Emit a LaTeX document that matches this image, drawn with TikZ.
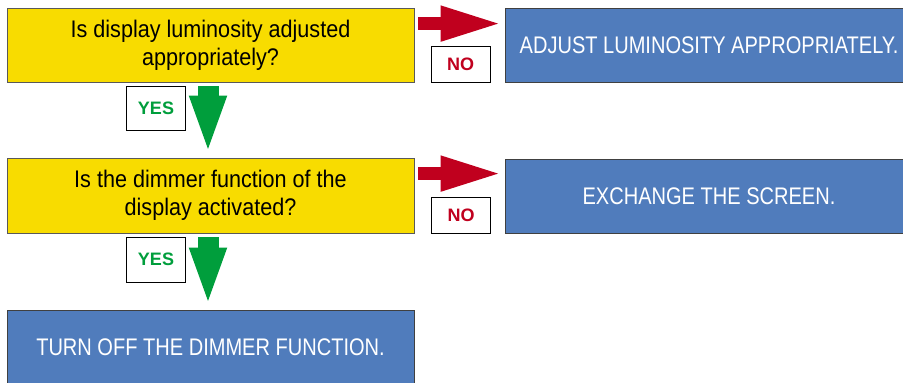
\documentclass[tikz,border=0pt]{standalone}
\usepackage{fontspec}
\setmainfont{Liberation Sans}[FakeStretch=0.9]
\newfontfamily\actfont{Liberation Sans}[FakeStretch=0.835]
\newfontfamily\tagfont{Liberation Sans}
\usepackage{tikz}
\usetikzlibrary{arrows.meta}
\definecolor{qyellow}{RGB}{248,220,0}
\definecolor{ablue}{RGB}{80,124,188}
\definecolor{nored}{RGB}{192,0,30}
\definecolor{yesgreen}{RGB}{0,158,60}
\tikzset{
    question/.style={
        draw=black!65, line width=0.8pt, fill=qyellow,
        minimum width=407pt, minimum height=74pt, inner sep=0pt,
        align=center, font=\fontsize{24}{28}\selectfont
    },
    action/.style={
        draw=black!75, line width=0.8pt, fill=ablue, text=white,
        minimum width=408pt, minimum height=74pt, inner sep=0pt,
        font=\actfont\fontsize{24}{28}\selectfont
    },
    tag/.style={
        draw=black, line width=0.8pt, fill=white,
        minimum width=59pt, inner sep=0pt,
        font=\tagfont\bfseries\fontsize{18}{20}\selectfont, text=#1
    },
    noarrow/.style={
        draw=nored, line width=13pt,
        -{Triangle[length=62pt,width=32pt]}
    },
    yesarrow/.style={
        draw=yesgreen, line width=21pt,
        -{Triangle[length=59pt,width=33pt]}
    }
}
\begin{document}
\begin{tikzpicture}[x=1pt,y=1pt]
		\useasboundingbox (0,0) rectangle (903,-383);
		\clip (0,0) rectangle (903,-383);

		% questions
		\node[question] (q1) at (210.5,-45) {Is display luminosity adjusted\\appropriately?};
		\node[question, minimum height=75pt] (q2) at (210.5,-195.5) {Is the dimmer function of the\\display activated?};

		% actions
		\node[action] (a1) at (709,-45) {ADJUST LUMINOSITY APPROPRIATELY.};
		\node[action] (a2) at (709,-196) {EXCHANGE THE SCREEN.};
		\node[action, minimum width=407pt] (a3) at (210.5,-347) {TURN OFF THE DIMMER FUNCTION.};

		% NO
		\draw[noarrow] ([shift={(4,-16)}]q1.north east) -- ([shift={(-2,-16)}]a1.north west);
		\node[tag=nored, minimum height=36pt] (n1) at (460.5,-64) {NO};
		\draw[noarrow] ([shift={(4,-16)}]q2.north east) -- ([shift={(-2,-15)}]a2.north west);
		\node[tag=nored, minimum height=36pt] (n2) at (461,-215) {NO};

		% YES
		\draw[yesarrow] ([shift={(-2.5,-4)}]q1.south) -- ([shift={(-2.5,3)}]q2.north);
		\node[tag=yesgreen, minimum height=44pt] (y1) at (156,-108) {YES};
		\draw[yesarrow] ([shift={(-2.5,-4)}]q2.south) -- ([shift={(-2.5,3)}]a3.north);
		\node[tag=yesgreen, minimum height=45pt] (y2) at (156,-259.5) {YES};

	\end{tikzpicture}
\end{document}
